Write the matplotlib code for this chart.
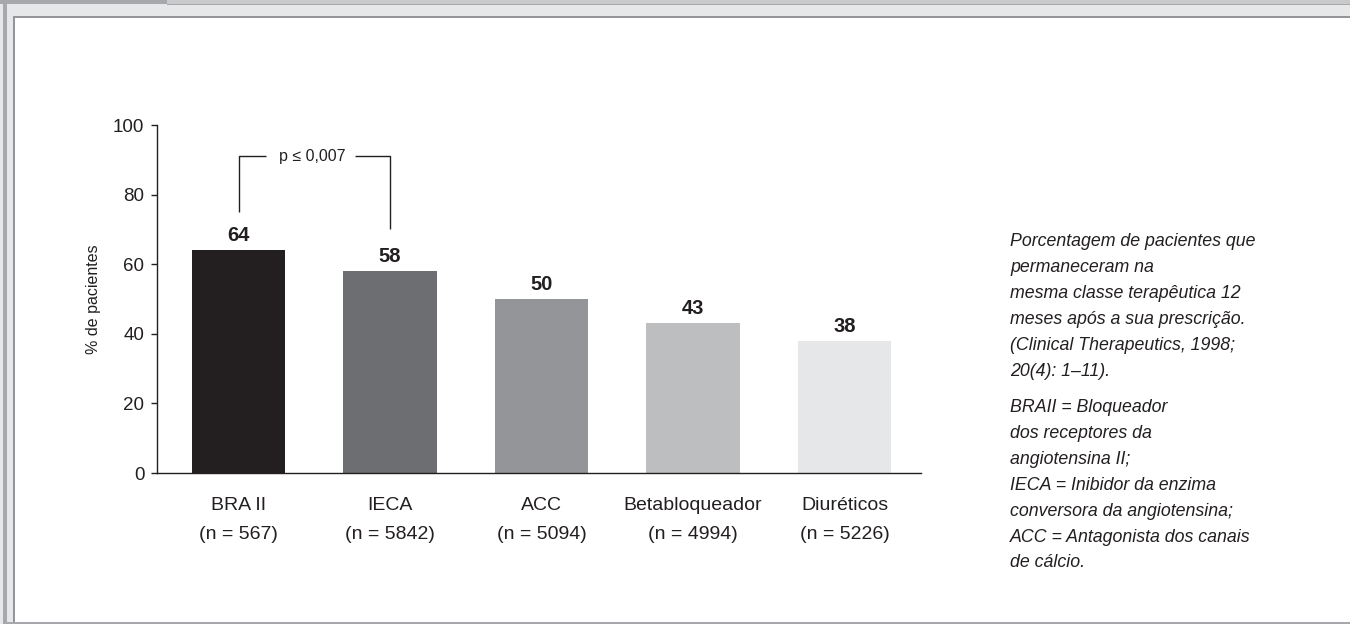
import matplotlib
matplotlib.use("Agg")
import matplotlib.pyplot as plt
from matplotlib.patches import Rectangle

plt.rcParams['font.family'] = ['Liberation Sans', 'DejaVu Sans']

# Data
categories = ["BRA II", "IECA", "ACC", "Betabloqueador", "Diuréticos"]
sample_sizes = [567, 5842, 5094, 4994, 5226]
values = [64, 58, 50, 43, 38]
bar_colors = ["#231f20", "#6d6e71", "#939598", "#bcbec0", "#e6e7e8"]
y_ticks = [0, 20, 40, 60, 80, 100]
p_label = "p \u2264 0,007"
bracket_top = 91
bracket_ends = (75, 70)

note_block_1 = [
    "Porcentagem de pacientes que",
    "permaneceram na",
    "mesma classe terapêutica 12",
    "meses após a sua prescrição.",
    "(Clinical Therapeutics, 1998;",
    "20(4): 1\u201311).",
]
note_block_2 = [
    "BRAII = Bloqueador",
    "dos receptores da",
    "angiotensina II;",
    "IECA = Inibidor da enzima",
    "conversora da angiotensina;",
    "ACC = Antagonista dos canais",
    "de cálcio.",
]

W, H = 1350, 624
fig = plt.figure(figsize=(W / 100, H / 100), dpi=100)
fig.patch.set_facecolor("white")


def px_rect(x0, y0, x1, y1, color):
    """Rectangle given in pixel coordinates measured from the top-left corner."""
    fig.patches.append(Rectangle((x0 / W, 1 - y1 / H), (x1 - x0) / W, (y1 - y0) / H,
                                 transform=fig.transFigure, facecolor=color,
                                 edgecolor="none", zorder=0))


# Page frame
px_rect(0, 0, W, 18, "#e6e7e8")
px_rect(0, 0, 15, H, "#e6e7e8")
px_rect(0, 0, W, 4, "#c8c9cb")
px_rect(0, 0, 167, 4, "#a7a8ab")
px_rect(167, 3.5, W, 5, "#a7a8ab")
px_rect(2.7, 0, 6.7, H, "#a7a8ab")
px_rect(13.3, 16, W, 17.5, "#939598")
px_rect(13.3, 16, 15, 622, "#939598")
px_rect(6.7, 621.5, W, H, "#a7a8ab")

# Chart
ax = fig.add_axes([157 / W, (H - 473) / H, (921 - 157) / W, (473 - 125) / H])
x = list(range(len(categories)))
ax.bar(x, values, width=0.614, color=bar_colors, zorder=2)

ax.set_xlim(-0.538, 4.505)
ax.set_ylim(0, 100)
ax.set_yticks(y_ticks)
ax.set_xticks(x)
ax.set_xticklabels([f"{c}\n(n = {n})" for c, n in zip(categories, sample_sizes)],
                   fontsize=14, color="#231f20", linespacing=1.95)
ax.tick_params(axis="x", length=0, pad=17)
ax.tick_params(axis="y", length=4, width=1, color="#231f20", pad=5,
               labelsize=13.5, labelcolor="#231f20", direction="out")
for side in ("top", "right"):
    ax.spines[side].set_visible(False)
for side in ("left", "bottom"):
    ax.spines[side].set_color("#231f20")
    ax.spines[side].set_linewidth(1.0)
ax.set_ylabel("% de pacientes", fontsize=11.5, color="#231f20", labelpad=9)

for xi, v in zip(x, values):
    ax.annotate(f"{v}", (xi, v), xytext=(0, 6.5), textcoords="offset points",
                ha="center", va="baseline", fontsize=14.5, fontweight="bold",
                color="#231f20")

# Significance bracket between the first two bars
lk = dict(color="#231f20", lw=1.0, solid_capstyle="butt", clip_on=False)
ax.plot([0, 0, 0.18], [bracket_ends[0], bracket_top, bracket_top], **lk)
ax.plot([0.77, 1, 1], [bracket_top, bracket_top, bracket_ends[1]], **lk)
ax.text(0.485, bracket_top, p_label, ha="center", va="center", fontsize=11.5,
        color="#231f20")

# Side notes
step = 25.8
for i, line in enumerate(note_block_1):
    fig.text(1010 / W, 1 - (242 + i * step) / H, line, ha="left", va="center",
             fontsize=12.8, style="italic", color="#231f20")
for i, line in enumerate(note_block_2):
    fig.text(1010 / W, 1 - (408 + i * step) / H, line, ha="left", va="center",
             fontsize=12.8, style="italic", color="#231f20")

fig.savefig("out.png", dpi=100, facecolor="white")
